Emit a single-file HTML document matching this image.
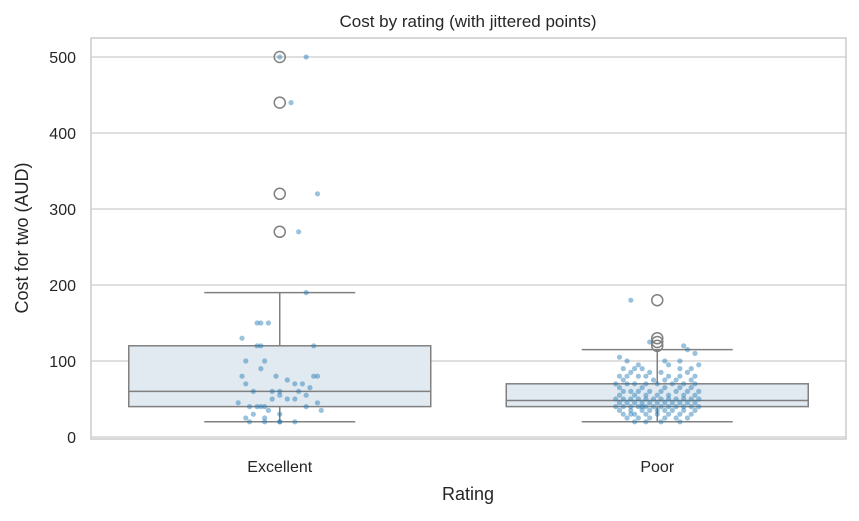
<!DOCTYPE html>
<html><head><meta charset="utf-8"><style>
body{margin:0;background:#fff;font-family:"Liberation Sans","DejaVu Sans",sans-serif}
svg text{font-family:"Liberation Sans","DejaVu Sans",sans-serif;fill:#262626}
</style></head><body>
<svg id="chart" width="859" height="516" viewBox="0 0 859 516" xmlns="http://www.w3.org/2000/svg">
<text x="468" y="27" font-size="17" text-anchor="middle">Cost by rating (with jittered points)</text>
<g id="grid"></g>
<g id="boxes"></g>
<g id="points"></g>
<rect x="91" y="38" width="755" height="401" fill="none" stroke="#cccccc" stroke-width="1.5"/>
<g id="yticks"></g>
<g id="xticks"></g>
<text x="468" y="500" font-size="18" text-anchor="middle">Rating</text>
<text transform="translate(28,238) rotate(-90)" font-size="18" text-anchor="middle">Cost for two (AUD)</text>
</svg>
<script>
const categories = ["Excellent","Poor"];
const yTicks = [0,100,200,300,400,500];
const q1 = [40,40];
const medians = [60,48];
const q3 = [120,70];
const whiskLo = [20,20];
const whiskHi = [190,115];
const outliersExcellent = [270,320,440,500];
const outliersPoor = [120,125,130,180];
const excellentVals = [500,500,440,320,270,190,150,150,150,130,120,120,120,100,100,90,80,80,80,80,75,70,70,70,65,60,60,60,60,55,55,50,50,50,45,45,40,40,40,40,40,35,35,30,30,25,25,20,20,20,20,20];
const excellentJit = [0.0,0.07,0.03,0.1,0.05,0.07,-0.05,-0.06,-0.03,-0.1,-0.06,-0.05,0.09,-0.09,-0.04,-0.05,-0.01,0.09,0.1,-0.1,0.02,0.04,-0.09,0.06,0.08,-0.02,0.05,-0.07,0.0,0.07,0.0,-0.02,0.02,0.04,-0.11,0.1,-0.08,-0.06,-0.05,-0.04,0.07,-0.03,0.11,-0.07,0.0,-0.09,-0.04,-0.08,-0.04,0.0,0.04,0.0];
const poorVals = [180,125,120,115,110,105,100,100,100,95,95,95,90,90,90,90,90,85,85,85,85,80,80,80,80,80,80,80,75,75,75,75,75,70,70,70,70,70,70,70,70,65,65,65,65,65,60,60,60,60,60,60,60,60,55,55,55,55,55,55,55,50,50,50,50,50,50,50,50,50,50,50,50,45,45,45,45,45,45,45,45,45,45,45,40,40,40,40,40,40,40,40,40,40,40,40,40,35,35,35,35,35,35,35,35,35,30,30,30,30,30,30,30,30,25,25,25,25,25,25,20,20,20,20];
const poorJit = [-0.07,-0.02,0.07,0.08,0.1,-0.1,0.02,-0.08,0.06,-0.05,0.03,0.11,-0.09,-0.04,0.06,0.09,-0.06,-0.07,0.01,0.08,-0.02,-0.1,-0.05,-0.03,0.03,0.06,0.1,-0.08,-0.09,-0.01,0.05,0.09,0.02,-0.11,-0.06,-0.03,0.0,0.04,0.07,0.1,-0.08,-0.1,-0.04,0.02,0.06,0.09,-0.09,-0.07,-0.05,-0.02,0.01,0.05,0.08,0.11,-0.1,-0.06,-0.03,0.0,0.03,0.07,0.1,-0.11,-0.09,-0.07,-0.05,-0.03,-0.01,0.01,0.03,0.05,0.07,0.09,0.11,-0.1,-0.08,-0.06,-0.04,-0.02,0.0,0.02,0.04,0.06,0.08,0.1,-0.11,-0.09,-0.07,-0.05,-0.03,-0.01,0.01,0.03,0.05,0.07,0.09,0.11,-0.04,-0.1,-0.07,-0.04,-0.02,0.02,0.04,0.07,0.1,0.0,-0.09,-0.06,-0.03,0.0,0.03,0.06,0.09,-0.07,-0.08,-0.05,-0.02,0.02,0.05,0.08,-0.06,-0.03,0.01,0.06];
const NS="http://www.w3.org/2000/svg";
const x0=91,x1=846,yZero=437,yScale=0.76,band=377.5;
function y(v){return yZero - v*yScale;}
function xc(i){return x0 + band*(i+0.5);}
function mk(tag,attrs,parent){const e=document.createElementNS(NS,tag);for(const k in attrs)e.setAttribute(k,attrs[k]);parent.appendChild(e);return e;}
const grid=document.getElementById('grid'),yt=document.getElementById('yticks'),xt=document.getElementById('xticks');
yTicks.forEach(t=>{
  const l=mk('line',{x1:x0,x2:x1,y1:y(t),y2:y(t),stroke:'#cccccc','stroke-width':1.3},grid);
  
  
  const tx=mk('text',{x:76,y:y(t)+6,'font-size':16,'text-anchor':'end'},yt);
  tx.textContent=t;
  
  
});
categories.forEach((c,i)=>{
  const tx=mk('text',{x:xc(i),y:472,'font-size':16,'text-anchor':'middle'},xt);
  tx.textContent=c;
  
  
});
const boxes=document.getElementById('boxes');
const outs=[outliersExcellent,outliersPoor];
categories.forEach((c,i)=>{
  const g=mk('g',{},boxes);
  
  
  const cx=xc(i),hw=band*0.4,st={stroke:'#808080','stroke-width':1.5};
  mk('line',Object.assign({x1:cx,x2:cx,y1:y(q3[i]),y2:y(whiskHi[i])},st),g);
  mk('line',Object.assign({x1:cx,x2:cx,y1:y(q1[i]),y2:y(whiskLo[i])},st),g);
  mk('line',Object.assign({x1:cx-hw/2,x2:cx+hw/2,y1:y(whiskHi[i]),y2:y(whiskHi[i])},st),g);
  mk('line',Object.assign({x1:cx-hw/2,x2:cx+hw/2,y1:y(whiskLo[i]),y2:y(whiskLo[i])},st),g);
  mk('rect',Object.assign({x:cx-hw,y:y(q3[i]),width:hw*2,height:y(q1[i])-y(q3[i]),fill:'#e1e9f1'},st),g);
  mk('line',Object.assign({x1:cx-hw,x2:cx+hw,y1:y(medians[i]),y2:y(medians[i])},st),g);
  outs[i].forEach(v=>{
    const o=mk('circle',{cx:cx,cy:y(v),r:5.5,fill:'none',stroke:'#808080','stroke-width':1.5},g);
    
    
  });
});
const pts=document.getElementById('points');
const vals=[excellentVals,poorVals],jits=[excellentJit,poorJit];
categories.forEach((c,i)=>{
  vals[i].forEach((v,k)=>{
    const p=mk('circle',{cx:xc(i)+jits[i][k]*band,cy:y(v),r:2.6,fill:'#1f77b4','fill-opacity':0.45},pts);
    
    
  });
});
</script>
</body></html>
